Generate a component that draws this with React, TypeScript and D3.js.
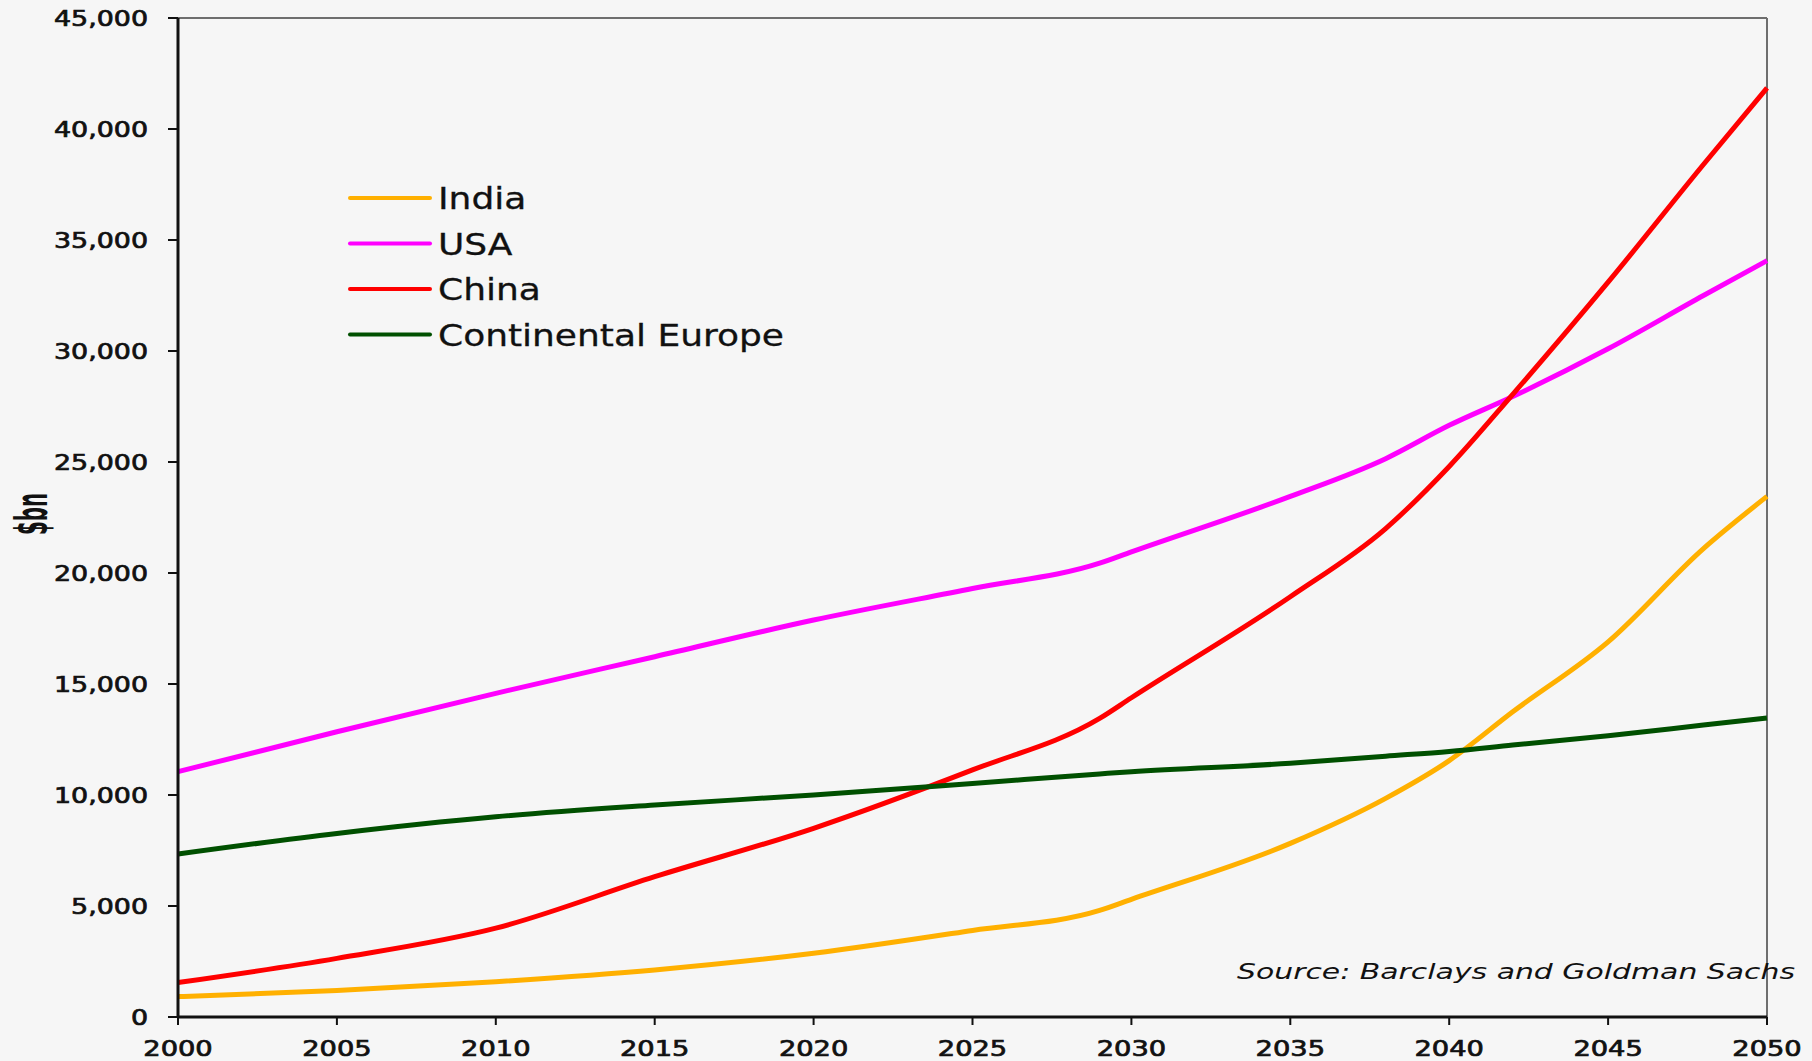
import React from "react";
import * as d3 from "d3";

const years = [2000, 2005, 2010, 2015, 2020, 2025, 2029, 2030, 2035, 2038, 2040, 2042, 2045, 2048, 2050];
const india = [920, 1190, 1590, 2120, 2870, 3900, 4800, 5300, 7820, 9850, 11550, 13750, 16900, 21100, 23450];
const usa = [11050, 12850, 14580, 16230, 17880, 19300, 20440, 20950, 23450, 25150, 26650, 27950, 30100, 32500, 34070];
const china = [1550, 2640, 4000, 6320, 8500, 11130, 13450, 14380, 18930, 22000, 24800, 28050, 33100, 38400, 41850];
const europe = [7340, 8270, 9020, 9550, 10000, 10520, 10950, 11050, 11430, 11750, 11960, 12250, 12670, 13150, 13470];

const seriesNames = ["India", "USA", "China", "Continental Europe"];
const seriesColors = ["#FFB000", "#FF00FF", "#FF0000", "#005000"];
const seriesValues = [india, usa, china, europe];

const yTicks = [0, 5000, 10000, 15000, 20000, 25000, 30000, 35000, 40000, 45000];
const xTicks = [2000, 2005, 2010, 2015, 2020, 2025, 2030, 2035, 2040, 2045, 2050];
const sourceText = "Source: Barclays and Goldman Sachs";
const yAxisLabel = "$bn";

const W = 1812, H = 1061;
const L = 178, R = 1767, T = 18, B = 1017;

export default function App() {
  const x = d3.scaleLinear().domain([2000, 2050]).range([L, R]);
  const y = d3.scaleLinear().domain([0, 45000]).range([B, T]);
  const fmt = d3.format(",");
  const line = d3
    .line<number>()
    .x((_, i) => x(years[i]))
    .y((d) => y(d))
    .curve(d3.curveMonotoneX);

  const font = "'DejaVu Sans', Verdana, sans-serif";
  const legendX = 350, legendY0 = 198, legendDy = 45.5;

  return (
    <svg width={W} height={H} style={{ position: "absolute", left: 0, top: 0, display: "block" }}>
      <rect x={0} y={0} width={W} height={H} fill="#F6F6F6" />
      {/* top & right border */}
      <line x1={L} x2={R} y1={T} y2={T} stroke="#6e6e6e" strokeWidth={2} />
      <line x1={R} x2={R} y1={T} y2={B} stroke="#6e6e6e" strokeWidth={2} />

      {/* series */}
      {seriesValues.map((vals, i) => (
        <path key={seriesNames[i]} d={line(vals) || ""} fill="none" stroke={seriesColors[i]} strokeWidth={5} strokeLinejoin="round" />
      ))}

      {/* axes */}
      <line x1={L} x2={L} y1={T} y2={B + 1} stroke="#111" strokeWidth={3} />
      <line x1={L - 1} x2={R} y1={B} y2={B} stroke="#111" strokeWidth={3} />
      {yTicks.map((t) => (
        <g key={"y" + t}>
          <line x1={L - 10} x2={L} y1={y(t)} y2={y(t)} stroke="#111" strokeWidth={2} />
          <g transform={`translate(148,${y(t) + 7.5}) scale(1.28,1)`}>
            <text x={0} y={0} textAnchor="end" fontFamily={font} fontSize={21} fill="#111" stroke="#111" strokeWidth={0.7}>
              {fmt(t)}
            </text>
          </g>
        </g>
      ))}
      {xTicks.map((t) => (
        <g key={"x" + t}>
          <line x1={x(t)} x2={x(t)} y1={B} y2={B + 8} stroke="#111" strokeWidth={2} />
          <g transform={`translate(${x(t)},1056) scale(1.3,1)`}>
            <text x={0} y={0} textAnchor="middle" fontFamily={font} fontSize={21} fill="#111" stroke="#111" strokeWidth={0.7}>
              {t}
            </text>
          </g>
        </g>
      ))}

      {/* y label */}
      <g transform="translate(47,514) scale(1.65,1) rotate(-90)">
        <text x={0} y={0} textAnchor="middle" fontFamily={font} fontWeight="bold" fontSize={27} fill="#111" textLength={42} lengthAdjust="spacingAndGlyphs">
          {yAxisLabel}
        </text>
      </g>

      {/* legend */}
      {seriesNames.map((n, i) => (
        <g key={"lg" + n}>
          <line x1={legendX} x2={legendX + 80} y1={legendY0 + i * legendDy} y2={legendY0 + i * legendDy} stroke={seriesColors[i]} strokeWidth={4} strokeLinecap="round" />
          <g transform={`translate(438,${legendY0 + i * legendDy + 11}) scale(1.2,1)`}>
            <text x={0} y={0} fontFamily={font} fontSize={30} fill="#111" stroke="#111" strokeWidth={0.3}>
              {n}
            </text>
          </g>
        </g>
      ))}

      {/* source */}
      <text x={1237} y={979} fontFamily={font} fontStyle="italic" fontSize={22} fill="#111" textLength={558} lengthAdjust="spacingAndGlyphs">
        {sourceText}
      </text>
    </svg>
  );
}
